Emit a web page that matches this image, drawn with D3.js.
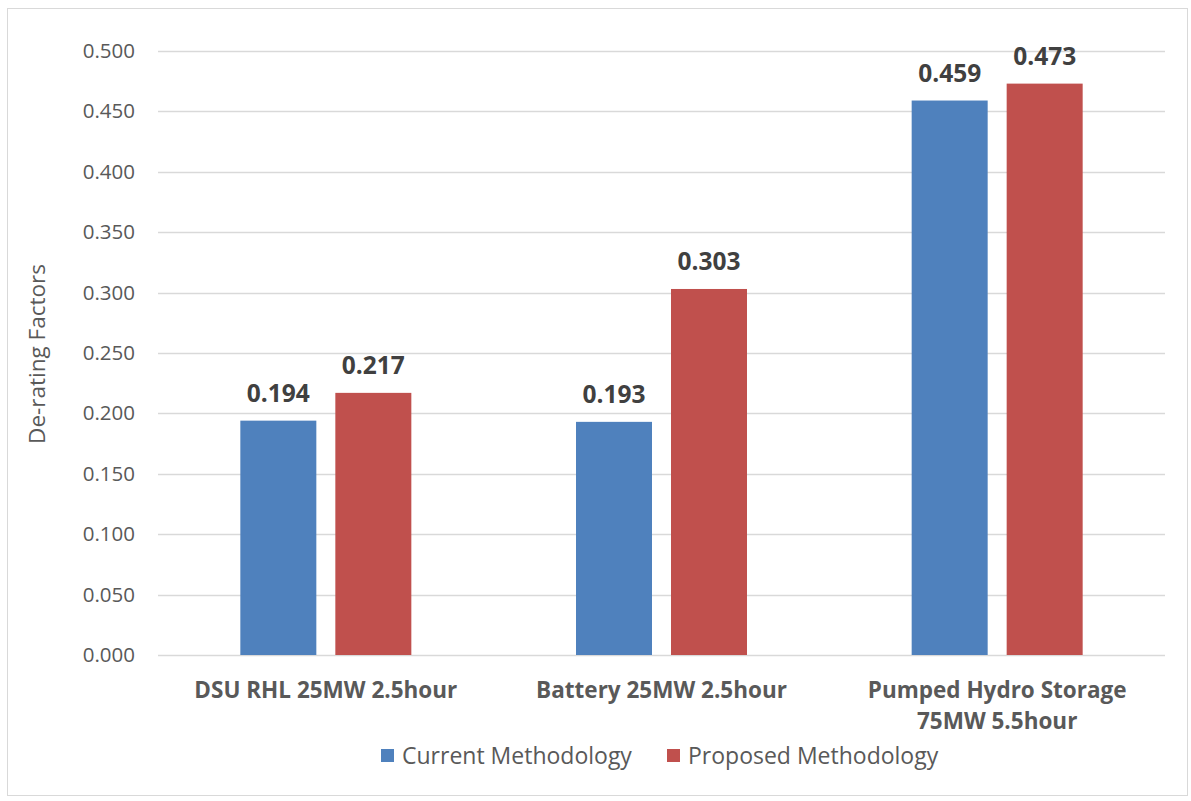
<!DOCTYPE html>
<html>
<head>
<meta charset="utf-8">
<script src="https://cdn.jsdelivr.net/npm/d3@7"></script>
<style>
body{margin:0;background:#fff;}
svg{font-family:"Open Sans","Noto Sans",sans-serif;}
</style>
</head>
<body>
<svg width="1191" height="801"></svg>
<script>
var categories = [["DSU RHL 25MW 2.5hour"],["Battery 25MW 2.5hour"],["Pumped Hydro Storage","75MW 5.5hour"]];
var series = ["Current Methodology","Proposed Methodology"];
var current = [0.194,0.193,0.459];
var proposed = [0.217,0.303,0.473];
var yTicks = [0,0.05,0.1,0.15,0.2,0.25,0.3,0.35,0.4,0.45,0.5];
var colors = ["#4f81bd","#c0504d"];

var svg = d3.select("svg");

// chart frame
svg.append("rect").attr("x",7.5).attr("y",8.5).attr("width",1180).attr("height",787)
  .attr("fill","none").attr("stroke","#d9d9d9");

var plotL = 158, plotR = 1165, plotT = 51, plotB = 655;
var x0 = d3.scaleBand().domain(d3.range(categories.length)).range([plotL,plotR]);
var x1 = d3.scaleBand().domain(series).range([0,171]).paddingInner(0.2);
var off = (x0.bandwidth()-171)/2;
var y = d3.scaleLinear().domain([0,0.5]).range([plotB,plotT]);

// gridlines
svg.append("g").selectAll("line").data(yTicks).enter().append("line")
  .attr("x1",plotL).attr("x2",plotR)
  .attr("y1",d=>Math.round(y(d))+0.5).attr("y2",d=>Math.round(y(d))+0.5)
  .attr("stroke","#d9d9d9").attr("stroke-width",1.3);

// y axis labels
var yAxis = svg.append("g").attr("transform","translate(135,0)")
  .call(d3.axisLeft(y).tickValues(yTicks).tickFormat(d3.format(".3f")).tickSize(0).tickPadding(0));
yAxis.select(".domain").remove();
yAxis.selectAll("text").attr("fill","#595959").style("font-size","20.5px")
  .style("font-family","'Open Sans',sans-serif");

// y title
svg.append("text").attr("transform","translate(45,354) rotate(-90)")
  .attr("text-anchor","middle").attr("fill","#595959").style("font-size","22.5px")
  .text("De-rating Factors");

var rows = categories.map((c,i)=>({i:i,vals:[current[i],proposed[i]]}));
var groups = svg.selectAll(".grp").data(rows).enter().append("g")
  .attr("class","grp").attr("transform",d=>"translate("+(x0(d.i)+off)+",0)");

groups.selectAll("rect").data(d=>d.vals.map((v,k)=>({k:k,v:v}))).enter().append("rect")
  .attr("x",d=>x1(series[d.k])).attr("width",x1.bandwidth())
  .attr("y",d=>y(d.v)).attr("height",d=>y(0)-y(d.v))
  .attr("fill",d=>colors[d.k]);

groups.selectAll(".val").data(d=>d.vals.map((v,k)=>({k:k,v:v}))).enter().append("text")
  .attr("class","val")
  .attr("x",d=>x1(series[d.k])+x1.bandwidth()/2).attr("y",d=>y(d.v)-19)
  .attr("text-anchor","middle").attr("fill","#404040")
  .style("font-size","24.5px").style("font-weight","bold")
  .text(d=>d3.format(".3f")(d.v));

// category labels
var cl = svg.selectAll(".cat").data(categories).enter().append("text")
  .attr("class","cat").attr("text-anchor","middle").attr("fill","#595959")
  .style("font-size","22.5px").style("font-weight","bold")
  .attr("x",(d,i)=>x0(i)+x0.bandwidth()/2).attr("y",698);
cl.selectAll("tspan").data(d=>d).enter().append("tspan")
  .attr("x",function(){return d3.select(this.parentNode).attr("x");})
  .attr("dy",(d,i)=>i==0?0:31).text(d=>d);

// legend
var legX = [381,667];
var leg = svg.selectAll(".leg").data(series).enter().append("g")
  .attr("transform",(d,i)=>"translate("+legX[i]+",749)");
leg.append("rect").attr("width",13).attr("height",13).attr("fill",(d,i)=>colors[i]);
leg.append("text").attr("x",21).attr("y",14.5).attr("fill","#595959")
  .style("font-size","23px").text(d=>d);
</script>
</body>
</html>
